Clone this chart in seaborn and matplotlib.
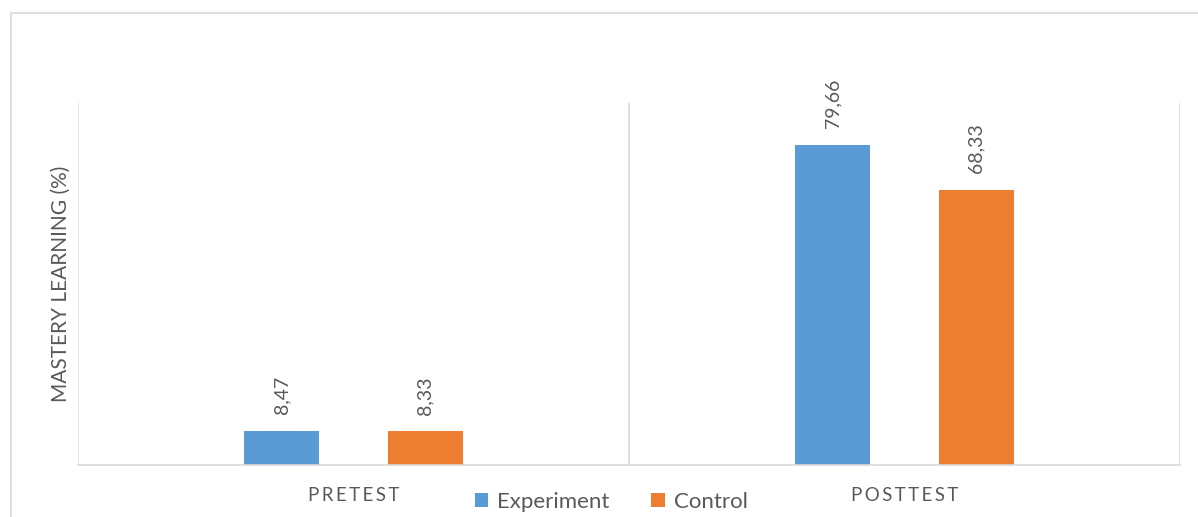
import matplotlib
matplotlib.use("Agg")
import matplotlib.pyplot as plt
from matplotlib.lines import Line2D
from matplotlib.patches import Patch
import pandas as pd
import seaborn as sns

# Mastery learning results per test phase and group
tests = ["PRETEST", "POSTTEST"]
groups = ["Experiment", "Control"]
experiment_values = [8.47, 79.66]
control_values = [8.33, 68.33]

colors = ["#5B9BD5", "#ED7D31"]
text_gray = "#595959"
line_gray = "#D9D9D9"

df = pd.DataFrame({
    "test": tests * 2,
    "group": [groups[0]] * len(tests) + [groups[1]] * len(tests),
    "mastery": experiment_values + control_values,
})

sns.set_theme(style="white")
plt.rcParams["font.family"] = ["Lato", "DejaVu Sans"]

fig = plt.figure(figsize=(11.98, 5.17), dpi=100)
ax = fig.add_axes([78 / 1198, 1 - 465 / 517, (1180 - 78) / 1198, (465 - 103) / 517])

sns.barplot(
    data=df, x="test", y="mastery", hue="group", order=tests, hue_order=groups,
    palette=colors, width=0.52, gap=0.477, saturation=1, errorbar=None,
    linewidth=0, legend=False, ax=ax,
)

ax.set_ylim(0, 90)
ax.set_xlim(-0.5, 1.5)
ax.set_yticks([])

# Category separators drawn as vertical gridlines
ax.set_xticks([-0.5, 0.5, 1.5], minor=True)
ax.grid(False)
ax.grid(True, which="minor", axis="x", color=line_gray, linewidth=1.2)
ax.tick_params(axis="x", which="both", length=0, pad=16)
for side in ["left", "right", "top"]:
    ax.spines[side].set_visible(False)
ax.spines["bottom"].set_color(line_gray)
ax.spines["bottom"].set_linewidth(1.2)

spaced = ["\u2009".join(t) for t in tests]
ax.set_xticks(range(len(tests)))
ax.set_xticklabels(spaced, fontsize=13.5, color=text_gray)
ax.set_xlabel("")

ax.set_ylabel("MASTERY LEARNING (%)", fontsize=15, color=text_gray)
ax.yaxis.set_label_coords(-7 / 1102, 0.5)

# Value labels above each bar, decimal comma
for container, vals in zip(ax.containers, [experiment_values, control_values]):
    ax.bar_label(
        container, labels=[f"{v:.2f}".replace(".", ",") for v in vals],
        rotation=90, padding=12, fontsize=14, color=text_gray,
    )

handles = [Patch(facecolor=c, edgecolor="none") for c in colors]
fig.legend(
    handles, groups, loc="center", bbox_to_anchor=(611 / 1198, 1 - 502 / 517),
    ncol=2, frameon=False, fontsize=16, labelcolor=text_gray,
    handlelength=0.6, handleheight=0.6, handletextpad=0.4, columnspacing=1.9,
)

# Chart area border (left and top edges)
fig.add_artist(Line2D([11 / 1198, 11 / 1198], [0, 1 - 13 / 517], color=line_gray, linewidth=1.2))
fig.add_artist(Line2D([11 / 1198, 1], [1 - 13 / 517, 1 - 13 / 517], color=line_gray, linewidth=1.2))

fig.savefig("out.png", dpi=100, facecolor="white")
